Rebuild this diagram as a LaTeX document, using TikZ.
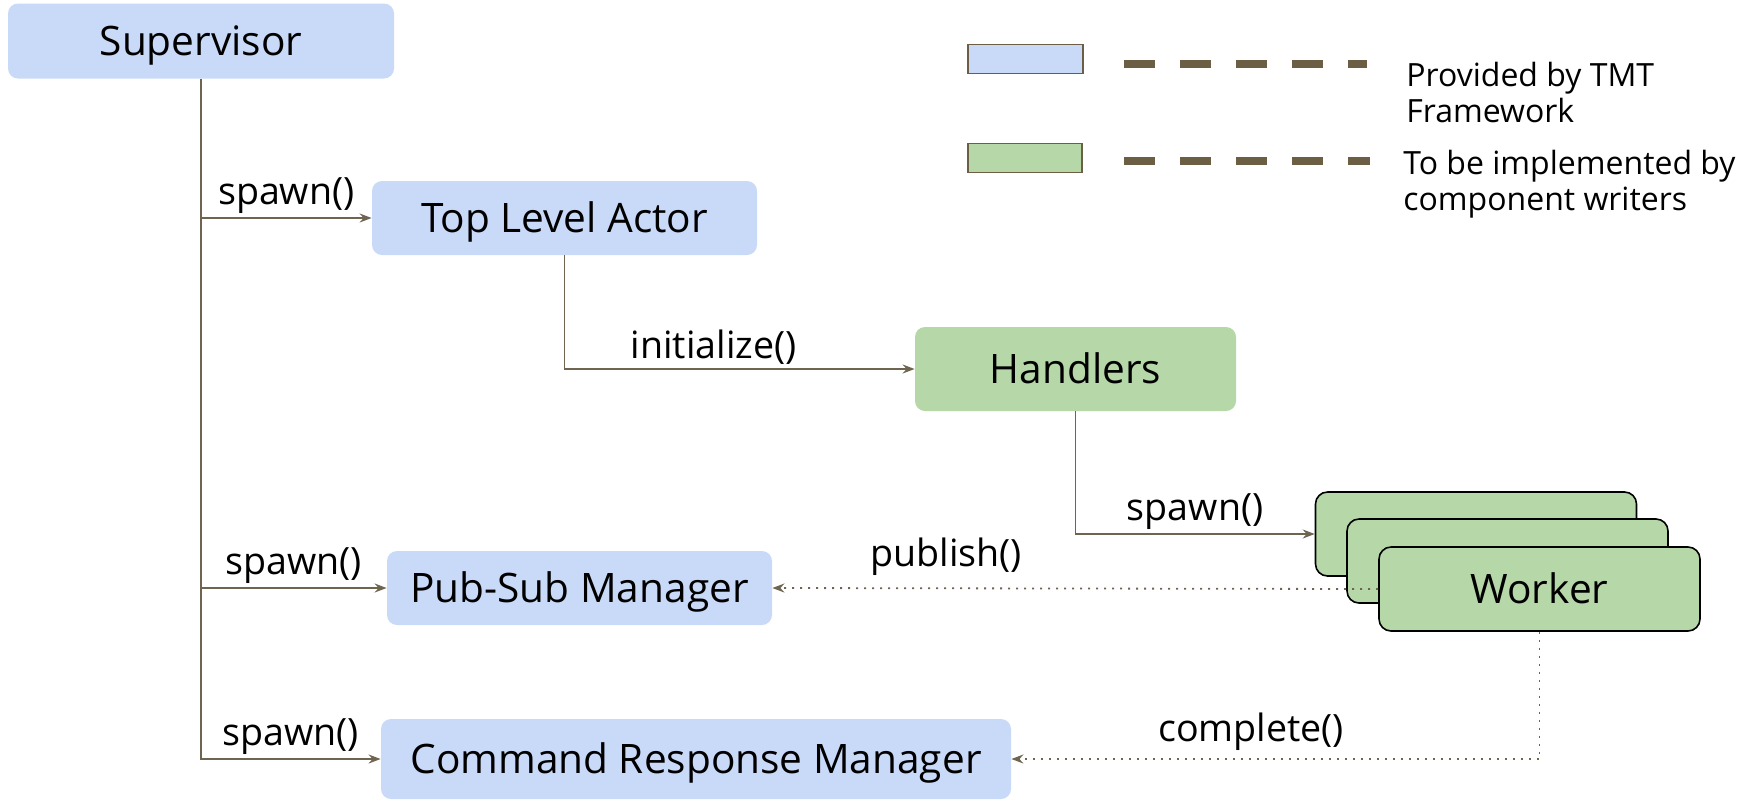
\documentclass[tikz,border=0pt]{standalone}
\usepackage{fontspec}
\setmainfont{Open Sans}
\usetikzlibrary{arrows.meta}
\definecolor{provblue}{HTML}{C9DAF8}
\definecolor{implgreen}{HTML}{B6D7A8}
\definecolor{wire}{HTML}{6E6450}
\definecolor{legdash}{HTML}{6B5E45}
\tikzset{
  box/.style={rounded corners=5pt, inner sep=0pt, text height=14.6pt, text depth=0pt, font=\fontsize{20.3}{24}\selectfont},
  prov/.style={box, fill=provblue},
  impl/.style={box, fill=implgreen},
  worker/.style={impl, draw=black, line width=0.8pt, rounded corners=6pt, minimum width=160.5pt, minimum height=42pt},
  lbl/.style={font=\fontsize{18.8}{22}\selectfont, inner sep=2pt, above},
  legtext/.style={font=\fontsize{16}{17.8}\selectfont, align=left, inner sep=0pt, anchor=west},
  spawnarrow/.style={draw=wire, line width=0.9pt, -{Stealth[length=6pt,width=4.5pt,inset=2pt]}},
  msgarrow/.style={spawnarrow, dash pattern=on 1pt off 3pt},
  legline/.style={draw=legdash, line width=4pt, dash pattern=on 15.5pt off 12.5pt},
}
\begin{document}
\begin{tikzpicture}[x=0.5pt,y=-0.5pt]
\useasboundingbox (0,0) rectangle (1754,800);

\node[prov, minimum width=193pt, minimum height=37.5pt] (sup) at (201,41) {Supervisor};
\node[prov, minimum width=192.5pt, minimum height=37pt] (tla) at (564.5,218) {Top Level Actor};
\node[impl, minimum width=160.5pt, minimum height=42pt] (hnd) at (1075.5,369) {Handlers};
\node[worker] (wk1) at (1476,534) {};
\node[worker] (wk2) at (1507.5,561) {};
\node[worker] (wk3) at (1539.5,589) {Worker};
\node[prov, minimum width=192.5pt, minimum height=37pt] (psm) at (579.5,588) {Pub-Sub Manager};
\node[prov, minimum width=315pt, minimum height=40pt] (crm) at (696,759) {Command Response Manager};

\draw[spawnarrow] (sup.south) |- node[lbl, pos=0.75] {spawn()} (tla.west);
\draw[spawnarrow] (sup.south) |- node[lbl, pos=0.75] {spawn()} (psm.west);
\draw[spawnarrow] (sup.south) |- node[lbl, pos=0.75] {spawn()} (crm.west);
\draw[spawnarrow] (tla.south) |- node[lbl, pos=0.713] {initialize()} (hnd.west);
\draw[spawnarrow] (hnd.south) |- node[lbl, pos=0.75] {spawn()} (wk1.west);
\draw[msgarrow] (wk3.west) -- node[lbl, pos=0.713, yshift=4pt] {publish()} (psm.east);
\draw[msgarrow] (wk3.south) |- node[lbl, pos=0.773, yshift=2pt] {complete()} (crm.east);

\node[prov, draw=legdash, line width=0.75pt, rounded corners=0pt, minimum width=57.5pt, minimum height=13pt] (legprov) at (1025.5,59) {};
\node[impl, draw=legdash, line width=0.75pt, rounded corners=0pt, minimum width=57pt, minimum height=13pt] (legimpl) at (1025,158) {};
\coordinate (dp1) at (1124,64);
\coordinate (dp2) at (1367,64);
\coordinate (di1) at (1124,161);
\coordinate (di2) at (1370,161);
\draw[legline] (dp1) -- (dp2);
\draw[legline] (di1) -- (di2);
\node[legtext] (txtprov) at (1406,92.5) {Provided by TMT\\Framework};
\node[legtext] (txtimpl) at (1403,184) {To be implemented by\\component writers};

\end{tikzpicture}
\end{document}
